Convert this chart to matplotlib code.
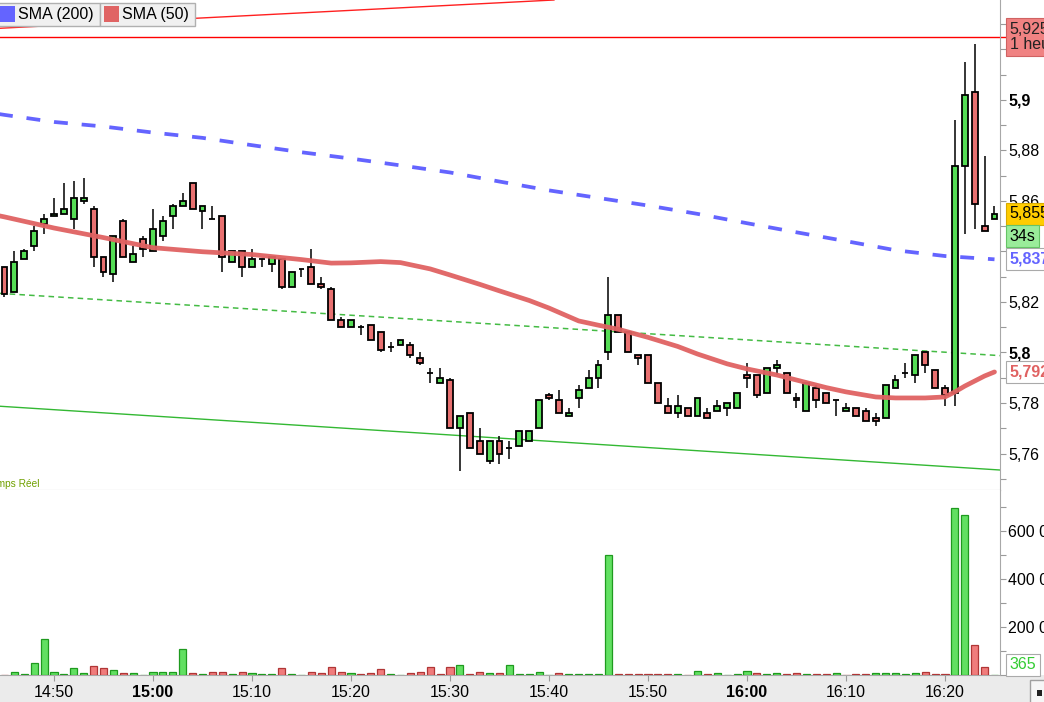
import matplotlib
matplotlib.use("Agg")
import matplotlib.pyplot as plt
import matplotlib.transforms as mtransforms
from matplotlib.patches import Rectangle
from matplotlib.ticker import MultipleLocator
import numpy as np

plt.rcParams['font.family'] = ['Liberation Sans', 'DejaVu Sans']
plt.rcParams['lines.scale_dashes'] = False

# ---------------- data ----------------
start_time = "14:45"   # first 1-minute candle

opens = [5.834, 5.824, 5.837, 5.842, 5.851, 5.854, 5.855, 5.853, 5.860, 5.857,
         5.838, 5.831, 5.852, 5.836, 5.845, 5.840, 5.846, 5.854, 5.858, 5.867,
         5.856, 5.853, 5.854, 5.836, 5.840, 5.834, 5.837, 5.835, 5.837, 5.826,
         5.833, 5.834, 5.827, 5.825, 5.813, 5.810, 5.810, 5.811, 5.808, 5.802,
         5.803, 5.803, 5.798, 5.792, 5.788, 5.789, 5.770, 5.776, 5.765, 5.757,
         5.765, 5.762, 5.763, 5.765, 5.770, 5.783, 5.781, 5.775, 5.782, 5.786,
         5.790, 5.800, 5.815, 5.808, 5.799, 5.799, 5.788, 5.779, 5.776, 5.778,
         5.775, 5.776, 5.777, 5.778, 5.778, 5.791, 5.791, 5.784, 5.794, 5.792,
         5.782, 5.777, 5.786, 5.784, 5.781, 5.777, 5.778, 5.777, 5.774, 5.774,
         5.786, 5.792, 5.791, 5.800, 5.793, 5.786, 5.784, 5.874, 5.903, 5.850,
         5.853]
highs = [5.834, 5.840, 5.841, 5.850, 5.855, 5.861, 5.867, 5.868, 5.869, 5.858,
         5.838, 5.846, 5.853, 5.842, 5.846, 5.857, 5.854, 5.859, 5.863, 5.867,
         5.858, 5.858, 5.854, 5.840, 5.840, 5.841, 5.837, 5.838, 5.837, 5.832,
         5.833, 5.841, 5.830, 5.826, 5.814, 5.813, 5.811, 5.811, 5.808, 5.804,
         5.805, 5.804, 5.800, 5.794, 5.794, 5.790, 5.775, 5.776, 5.770, 5.765,
         5.767, 5.765, 5.769, 5.769, 5.781, 5.784, 5.785, 5.778, 5.787, 5.793,
         5.797, 5.830, 5.815, 5.808, 5.799, 5.799, 5.788, 5.782, 5.783, 5.778,
         5.782, 5.778, 5.781, 5.780, 5.784, 5.796, 5.791, 5.794, 5.797, 5.792,
         5.784, 5.788, 5.787, 5.784, 5.781, 5.780, 5.778, 5.778, 5.776, 5.787,
         5.791, 5.796, 5.799, 5.800, 5.793, 5.787, 5.892, 5.915, 5.922, 5.878,
         5.858]
lows = [5.822, 5.824, 5.837, 5.840, 5.847, 5.854, 5.855, 5.849, 5.859, 5.834,
        5.830, 5.828, 5.838, 5.836, 5.838, 5.840, 5.844, 5.849, 5.858, 5.857,
        5.849, 5.853, 5.832, 5.836, 5.830, 5.834, 5.834, 5.832, 5.825, 5.826,
        5.830, 5.827, 5.825, 5.813, 5.810, 5.810, 5.807, 5.805, 5.800, 5.800,
        5.803, 5.798, 5.795, 5.788, 5.788, 5.770, 5.753, 5.762, 5.760, 5.756,
        5.756, 5.758, 5.763, 5.765, 5.770, 5.781, 5.776, 5.775, 5.778, 5.786,
        5.786, 5.797, 5.808, 5.800, 5.795, 5.788, 5.780, 5.776, 5.774, 5.775,
        5.775, 5.774, 5.777, 5.775, 5.778, 5.786, 5.782, 5.784, 5.791, 5.784,
        5.778, 5.777, 5.778, 5.780, 5.775, 5.777, 5.775, 5.773, 5.771, 5.774,
        5.786, 5.790, 5.788, 5.792, 5.786, 5.779, 5.779, 5.847, 5.849, 5.848,
        5.853]
closes = [5.823, 5.836, 5.840, 5.848, 5.853, 5.855, 5.857, 5.861, 5.861, 5.838,
          5.832, 5.846, 5.838, 5.839, 5.841, 5.849, 5.852, 5.858, 5.860, 5.857,
          5.858, 5.853, 5.838, 5.840, 5.834, 5.837, 5.837, 5.838, 5.826, 5.832,
          5.833, 5.827, 5.826, 5.813, 5.810, 5.813, 5.810, 5.805, 5.801, 5.802,
          5.805, 5.799, 5.796, 5.792, 5.790, 5.770, 5.775, 5.762, 5.760, 5.765,
          5.760, 5.762, 5.769, 5.769, 5.781, 5.782, 5.776, 5.776, 5.785, 5.790,
          5.795, 5.815, 5.808, 5.800, 5.798, 5.788, 5.780, 5.776, 5.779, 5.775,
          5.782, 5.774, 5.779, 5.780, 5.784, 5.790, 5.783, 5.794, 5.795, 5.784,
          5.781, 5.788, 5.781, 5.780, 5.781, 5.778, 5.775, 5.773, 5.773, 5.787,
          5.789, 5.792, 5.799, 5.795, 5.786, 5.783, 5.874, 5.902, 5.859, 5.848,
          5.855]
volumes = [0, 11000, 3000, 49000, 149000, 11000, 3000, 28000, 7000, 36000,
           28000, 19000, 7000, 7000, 0, 11000, 11000, 11000, 107000, 7000,
           3000, 11000, 11000, 3000, 11000, 7000, 3000, 3000, 28000, 3000,
           0, 11000, 7000, 32000, 11000, 7000, 3000, 7000, 24000, 3000,
           0, 7000, 11000, 32000, 3000, 32000, 40000, 3000, 11000, 7000,
           7000, 40000, 3000, 3000, 11000, 0, 7000, 3000, 3000, 3000,
           3000, 499000, 3000, 3000, 3000, 3000, 3000, 3000, 3000, 0,
           15000, 3000, 7000, 0, 3000, 15000, 7000, 3000, 7000, 3000,
           7000, 3000, 3000, 3000, 7000, 0, 3000, 3000, 7000, 7000,
           7000, 3000, 7000, 11000, 3000, 3000, 694000, 665000, 124000, 32000,
           365]

sma50_times = ["14:44", "14:45", "14:50", "14:55", "15:00", "15:05", "15:10", "15:15",
               "15:18", "15:20", "15:23", "15:25", "15:28", "15:30", "15:33", "15:35",
               "15:38", "15:40", "15:43", "15:45", "15:47", "15:50", "15:53", "15:55",
               "15:58", "16:00", "16:03", "16:05", "16:08", "16:10", "16:13", "16:15",
               "16:18", "16:20", "16:21", "16:22", "16:23", "16:24", "16:25"]
sma50_values = [5.8545, 5.8537, 5.8493, 5.8455, 5.8415, 5.8399, 5.8388, 5.8368,
                5.8354, 5.8355, 5.8360, 5.8356, 5.8331, 5.8307, 5.8270, 5.8244,
                5.8206, 5.8176, 5.8125, 5.8108, 5.8092, 5.8060, 5.8024, 5.7994,
                5.7955, 5.7935, 5.7911, 5.7891, 5.7861, 5.7844, 5.7824, 5.7820,
                5.7820, 5.7824, 5.7844, 5.7867, 5.7887, 5.7907, 5.7923]

sma200_times = ["14:44", "14:45", "14:50", "14:55", "15:00", "15:05", "15:10", "15:15",
                "15:20", "15:25", "15:30", "15:35", "15:40", "15:45", "15:50", "15:55",
                "16:00", "16:05", "16:10", "16:15", "16:20", "16:25"]
sma200_values = [5.8947, 5.8941, 5.8913, 5.8895, 5.8871, 5.8850, 5.8821, 5.8793,
                 5.8768, 5.8741, 5.8713, 5.8677, 5.8642, 5.8612, 5.8582, 5.8549,
                 5.8512, 5.8476, 5.8441, 5.8405, 5.8382, 5.8369]

hour_high = 5.925
hour_label = "1 heure"
countdown_label = "34s"
red_trend = (("14:45", 5.9285), ("15:35", 5.9385))
green_dashed_trend = (("14:45", 5.8233), ("16:25", 5.7989))
green_solid_trend = (("14:45", 5.7786), ("16:25", 5.7536))

legend_labels = ["SMA (200)", "SMA (50)"]
price_ticks = [5.76, 5.78, 5.80, 5.82, 5.84, 5.86, 5.88, 5.90]
volume_ticks = [200000, 400000, 600000]
time_ticks = ["14:50", "15:00", "15:10", "15:20", "15:30", "15:40",
              "15:50", "16:00", "16:10", "16:20"]
feed_label = "Temps Réel"


def t2i(t):
    h, m = map(int, t.split(":"))
    h0, m0 = map(int, start_time.split(":"))
    return (h * 60 + m) - (h0 * 60 + m0)


def fmt_price(v):
    return f"{v:.3f}".rstrip("0").rstrip(".").replace(".", ",")


# ---------------- layout ----------------
W, H = 1044, 702
fig = plt.figure(figsize=(W / 100, H / 100), dpi=100)


def frac(x0, y0, x1, y1):
    return [x0 / W, 1 - y1 / H, (x1 - x0) / W, (y1 - y0) / H]


bg = fig.add_axes([0, 0, 1, 1], zorder=0)
bg.set_xlim(0, W)
bg.set_ylim(H, 0)
bg.axis("off")
bg.add_patch(Rectangle((0, 675), W, 27, fc="#ebebeb", ec="none"))

ax = fig.add_axes(frac(0, 0, 1000, 490), zorder=1)
axv = fig.add_axes(frac(0, 490, 1000, 675), zorder=1, sharex=ax)

GREEN = "#55dd55"
RED = "#e87070"
SPINE = "#a8a8a8"

o = np.array(opens)
h = np.array(highs)
l = np.array(lows)
c = np.array(closes)
x = np.arange(len(o))
up = c >= o

# candles
ax.vlines(x, l, h, color="black", lw=1.1, zorder=3)
ax.bar(x, np.abs(c - o), bottom=np.minimum(o, c), width=0.6,
       color=np.where(up, GREEN, RED), edgecolor="black", linewidth=1.3, zorder=4)

# moving averages
ax.plot([t2i(t) for t in sma50_times], sma50_values, color="#e06262", lw=3.4,
        solid_capstyle="round", zorder=5, alpha=0.95)
ax.plot([t2i(t) for t in sma200_times], sma200_values, color="#6464ff", lw=2.7,
        linestyle=(0, (10, 10)), zorder=5)

# trend lines
ax.axhline(hour_high, color="#ff0000", lw=1.0, zorder=2, xmax=1.006, clip_on=False)
(ta, pa), (tb, pb) = red_trend
ax.axline((t2i(ta), pa), (t2i(tb), pb), color="#ff2020", lw=1.0, zorder=2)
(ta, pa), (tb, pb) = green_dashed_trend
ax.axline((t2i(ta), pa), (t2i(tb), pb), color="#44bb44", lw=1.1,
          linestyle=(0, (4, 3)), zorder=2)
(ta, pa), (tb, pb) = green_solid_trend
ax.axline((t2i(ta), pa), (t2i(tb), pb), color="#33b833", lw=1.0, zorder=2)

ax.set_xlim(-0.4545, 100.556)
ax.set_ylim(5.745545, 5.9396)

# volume bars (colour by close vs previous close)
prev = np.concatenate([[o[0]], c[:-1]])
vol_up = c >= prev
axv.bar(x, volumes, width=0.72, color=np.where(vol_up, "#62e062", "#f07c7c"),
        edgecolor=np.where(vol_up, "#1f9a1f", "#b03636"), linewidth=0.9, zorder=3)
axv.set_ylim(0, 770800)

# ---------------- axes styling ----------------
for a in (ax, axv):
    a.set_facecolor("white")
    a.spines["top"].set_visible(False)
    a.spines["left"].set_visible(False)
    a.spines["right"].set_color(SPINE)
    a.spines["bottom"].set_color(SPINE)
    a.yaxis.tick_right()

ax.tick_params(axis="x", bottom=False, labelbottom=False)
ax.set_yticks(price_ticks)
ax.set_yticklabels([fmt_price(v) for v in price_ticks])
for lab, v in zip(ax.get_yticklabels(), price_ticks):
    if abs(v * 10 - round(v * 10)) < 1e-9:
        lab.set_fontweight("bold")
ax.yaxis.set_minor_locator(MultipleLocator(0.01))
ax.tick_params(axis="y", which="both", length=4.5, width=0.8, color="#9a9a9a",
               pad=1.5, labelsize=11.5)

axv.set_yticks(volume_ticks)
axv.set_yticklabels([f"{v:,}".replace(",", " ") for v in volume_ticks])
axv.yaxis.set_minor_locator(MultipleLocator(100000))
axv.tick_params(axis="y", which="both", length=4.5, width=0.8, color="#9a9a9a",
                pad=1.5, labelsize=11.5)

axv.set_xticks([t2i(t) for t in time_ticks])
axv.set_xticklabels(time_ticks)
for lab, t in zip(axv.get_xticklabels(), time_ticks):
    if t.endswith(":00"):
        lab.set_fontweight("bold")
axv.tick_params(axis="x", length=4, width=0.8, color="#9a9a9a", pad=3, labelsize=11.5)

# ---------------- right-side value boxes ----------------
trans = mtransforms.blended_transform_factory(ax.transAxes, ax.transData)
box_x = 1.0095
ax.text(box_x, hour_high, f"{fmt_price(hour_high)}\n{hour_label}", transform=trans,
        va="center", ha="left", fontsize=11.5, linespacing=1.05, clip_on=False, zorder=6,
        color="#222222",
        bbox=dict(boxstyle="square,pad=0.22", fc="#f08282", ec="#d06262", lw=0.8))
ax.text(box_x, closes[-1], fmt_price(closes[-1]), transform=trans, va="center", ha="left",
        fontsize=11.5, clip_on=False, zorder=7,
        bbox=dict(boxstyle="square,pad=0.22", fc="#ffcc00", ec="#d8aa00", lw=0.8))
ax.annotate(countdown_label, xy=(box_x, closes[-1]), xycoords=trans, xytext=(0, -16.2),
            textcoords="offset points", va="center", ha="left", fontsize=11.5,
            annotation_clip=False, zorder=7,
            bbox=dict(boxstyle="square,pad=0.22", fc="#9aec9a", ec="#66c466", lw=0.8))
ax.text(box_x, sma200_values[-1], fmt_price(sma200_values[-1]), transform=trans,
        va="center", ha="left", fontsize=11.5, fontweight="bold", color="#6464ff",
        clip_on=False, zorder=6,
        bbox=dict(boxstyle="square,pad=0.22", fc="white", ec="#aaaaaa", lw=0.8))
ax.text(box_x, sma50_values[-1], fmt_price(sma50_values[-1]), transform=trans,
        va="center", ha="left", fontsize=11.5, fontweight="bold", color="#e06262",
        clip_on=False, zorder=6,
        bbox=dict(boxstyle="square,pad=0.22", fc="white", ec="#aaaaaa", lw=0.8))
transv = mtransforms.blended_transform_factory(axv.transAxes, axv.transData)
axv.annotate(f"{volumes[-1]}", xy=(box_x, volumes[-1]), xycoords=transv, xytext=(0, 2),
             textcoords="offset points", va="bottom", ha="left", fontsize=11.5,
             color="#33cc33", annotation_clip=False, zorder=6,
             bbox=dict(boxstyle="square,pad=0.22", fc="white", ec="#aaaaaa", lw=0.8))

# ---------------- overlay: legend, labels ----------------
fg = fig.add_axes([0, 0, 1, 1], zorder=5)
fg.set_xlim(0, W)
fg.set_ylim(H, 0)
fg.axis("off")
fg.add_patch(Rectangle((-2, 2.5), 102, 23.5, fc="#f0f0f0", ec="#b0b0b0", lw=1))
fg.add_patch(Rectangle((100, 2.5), 95, 23.5, fc="#f0f0f0", ec="#b0b0b0", lw=1))
fg.add_patch(Rectangle((0, 5.5), 14.5, 16.5, fc="#6464ff", ec="none"))
fg.add_patch(Rectangle((104, 5.5), 14.5, 16.5, fc="#e06464", ec="none"))
fg.text(18, 14.5, legend_labels[0], va="center", ha="left", fontsize=11.5)
fg.text(122, 14.5, legend_labels[1], va="center", ha="left", fontsize=11.5)
fg.text(40, 487, feed_label, ha="right", va="baseline", fontsize=7.3, color="#70a000")
fg.add_patch(Rectangle((1030, 680), 15, 23, fc="#f6f6f6", ec="#a0a0a0", lw=1))
fg.add_patch(Rectangle((1037, 690), 5, 6, fc="#222222", ec="none"))

fig.savefig("out.png", dpi=100)
